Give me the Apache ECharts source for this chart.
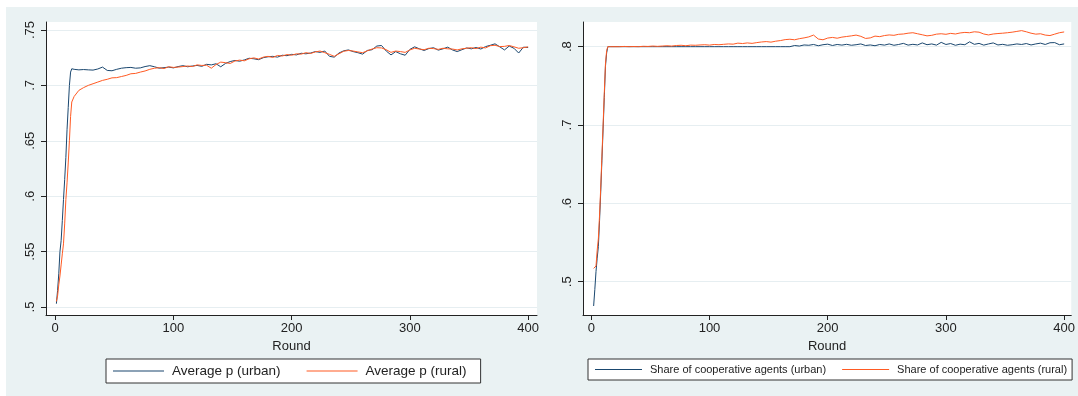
<!DOCTYPE html>
<html>
<head>
<meta charset="utf-8">
<script src="https://cdn.jsdelivr.net/npm/echarts@6/dist/echarts.min.js"></script>
<style>
html,body{margin:0;padding:0;background:#fff;}
#chart{width:1078px;height:396px;}
</style>
</head>
<body>
<div id="chart"></div>
<script>
// ---- data ----
const rounds = [1,2,3,4,5,6,7,8,9,10,11,12,13,14,
16,20,24,28,32,36,40,44,48,52,56,60,64,68,72,76,80,
84,88,92,96,100,104,108,112,116,120,124,128,132,136,140,144,148,152,156,160,
164,168,172,176,180,184,188,192,196,200,
204,208,212,216,220,224,228,232,236,240,244,248,252,256,260,264,268,272,276,280,
284,288,292,296,300,304,308,312,316,320,324,328,332,336,340,344,348,352,356,360,
364,368,372,376,380,384,388,392,396,400];

const avgPUrban = [.503,.515,.53,.55,.56,.578,.597,.615,.635,.66,.68,.70,.712,.715,
.7145,.714,.7143,.714,.7138,.7148,.7165,.7135,.7132,.7145,.7155,.716,.7162,.7155,.7158,.717,.7178,
.7168,.7155,.716,.7165,.7158,.717,.7178,.7168,.7175,.718,.7172,.719,.7185,.7195,.7168,.7198,.7215,.7225,.7218,.723,
.7245,.724,.7232,.725,.7258,.7262,.7255,.7272,.7268,.728,
.7275,.729,.7285,.7292,.7305,.7298,.731,.7262,.7255,.7292,.7312,.732,.7305,.7295,.7282,.7315,.7322,.7355,.736,.731,
.7275,.7305,.7285,.7272,.7325,.7348,.733,.7315,.7332,.734,.7318,.733,.7345,.732,.7305,.7322,.7338,.733,.7342,.7328,
.735,.7362,.7375,.7348,.732,.7355,.7335,.7292,.7345,.7342];

const avgPRural = [.505,.51,.52,.528,.538,.548,.557,.575,.597,.612,.63,.65,.672,.685,
.69,.6955,.698,.70,.7015,.703,.7045,.7055,.7068,.707,.708,.709,.7105,.7108,.712,.713,.7145,
.7155,.716,.7152,.7168,.7162,.7165,.717,.7175,.717,.7185,.718,.7182,.7155,.7188,.721,.7205,.7198,.722,.7228,.7222,
.724,.7248,.7238,.7255,.7262,.7252,.727,.7265,.7278,.7272,
.7285,.7282,.7295,.7288,.7302,.731,.7295,.728,.7262,.7285,.7308,.7315,.731,.7302,.7295,.7312,.7328,.734,.7338,.7322,
.7298,.731,.7305,.7298,.732,.7335,.7328,.7322,.7335,.7332,.7325,.7335,.733,.7328,.732,.733,.7335,.734,.7332,.7345,
.7338,.7358,.7362,.735,.7352,.736,.7348,.7335,.734,.7348];

const shareUrban = [null,.469,.49,.513,.53,.545,.578,.615,.655,.695,.735,.775,.792,.80,
.80,.80,.80,.80,.80,.80,.80,.80,.80,.80,.80,.80,.80,.80,.80,.80,.80,
.80,.80,.80,.80,.80,.80,.80,.80,.80,.80,.80,.80,.80,.80,.80,.80,.80,.80,.80,.80,
.80,
.80,.8015,.8008,.8022,.8018,.8028,.8012,.8025,.8032,.8015,
.8028,.802,.803,.8018,.8025,.8035,.8015,.8022,.8012,.8028,
.802,.8035,.8018,.8028,.8042,.802,.803,.8022,.8048,.8025,
.8035,.802,.8055,.8028,.804,.8018,.8032,.8025,.8062,.803,
.8042,.802,.8035,.8048,.8022,.803,.8018,.8025,.8035,.8028,
.804,.8022,.8035,.8045,.8028,.805,.8052,.8025,.8035];

const shareRural = [null,.517,.517,.52,.54,.555,.585,.62,.66,.70,.74,.778,.795,.80,
.80,.80,.80,.8003,.80,.8002,.80,.8005,.8003,.8008,
.8004,.8008,.8012,.8008,.8015,.8018,.8012,.802,.8018,.8022,
.8025,.802,.8028,.8025,.803,.8035,.8032,.8045,.804,.8048,
.8042,.8052,.806,.8065,.8058,.807,.8078,.809,.8095,.8088,
.8102,.8112,.8125,.8148,.8098,.8088,.811,.8118,.8108,.8122,
.813,.8138,.8148,.8132,.8105,.8112,.8135,.8128,.8142,.815,
.8145,.8158,.8162,.8172,.8178,.8165,.8152,.8138,.8145,.816,
.8165,.8158,.817,.8162,.8175,.8182,.8178,.819,.8185,.8162,
.815,.8162,.8168,.8172,.8178,.8185,.8195,.8205,.819,.8172,
.816,.8165,.8148,.8142,.816,.8178,.8188];

const xTicks = [0,100,200,300,400];
const yTicksLeft = [.5,.55,.6,.65,.7,.75];
const yTicksRight = [.5,.6,.7,.8];
const names = ['Average p (urban)','Average p (rural)','Share of cooperative agents (urban)','Share of cooperative agents (rural)'];

// ---- chart ----
const NAVY = '#1a476f', ORANGE = '#ff5a23';
const FONT = 'Liberation Sans, Arial, sans-serif';
const pair = arr => rounds.map((r,i)=>[r, arr[i]]);
const fmtY = v => v.toFixed(2).replace(/^0/,'').replace(/0$/,'');

function xAxis(gi, min, max){
  return {
    type:'value', gridIndex:gi, min:min, max:max,
    name:'Round', nameLocation:'middle', nameGap:20,
    nameTextStyle:{color:'#222', fontSize:13, fontFamily:FONT},
    axisLine:{show:true, onZero:false, lineStyle:{color:'#222', width:1}},
    axisTick:{show:true, length:5, customValues:xTicks, lineStyle:{color:'#222'}},
    axisLabel:{customValues:xTicks, color:'#222', fontSize:13, fontFamily:FONT, margin:7},
    splitLine:{show:false}
  };
}
function yAxis(gi, min, max, ticks){
  return {
    type:'value', gridIndex:gi, min:min, max:max,
    axisLine:{show:true, onZero:false, lineStyle:{color:'#222', width:1}},
    axisTick:{show:true, length:5, customValues:ticks, lineStyle:{color:'#222'}},
    axisLabel:{customValues:ticks, formatter:fmtY, rotate:90, color:'#222', fontSize:13, fontFamily:FONT, margin:9},
    splitLine:{show:true, lineStyle:{color:'#e6eef1', width:1}}
  };
}
function line(name, xi, arr, color){
  return {
    name:name, type:'line', xAxisIndex:xi, yAxisIndex:xi, data:pair(arr),
    showSymbol:false, symbol:'none', lineStyle:{color:color, width:1}, itemStyle:{color:color},
    emphasis:{disabled:true}, connectNulls:false
  };
}
function legend(names2, left, fontSize, itemWidth, gap, padR){
  return {
    data:names2, left:left, top:359, orient:'horizontal',
    backgroundColor:'#fff', borderColor:'#333', borderWidth:1, borderRadius:0,
    padding:[5,padR,5,7], itemGap:gap, itemWidth:itemWidth, itemHeight:1,
    icon:'rect',
    textStyle:{color:'#222', fontSize:fontSize, fontFamily:FONT, padding:[0,0,0,3]}
  };
}

const chart = echarts.init(document.getElementById('chart'), null, {renderer:'canvas'});
chart.setOption({
  animation:false,
  backgroundColor:'#eaf2f3',
  graphic:[
    {type:'rect', shape:{x:0,y:0,width:1078,height:7}, style:{fill:'#fff'}, silent:true},
    {type:'rect', shape:{x:0,y:0,width:6,height:396}, style:{fill:'#fff'}, silent:true}
  ],
  grid:[
    {left:46, right:541, top:22, bottom:81, show:true, backgroundColor:'#fff', borderWidth:0},
    {left:583, right:4, top:22, bottom:81, show:true, backgroundColor:'#fff', borderWidth:0}
  ],
  xAxis:[xAxis(0,-7.8,407.5), xAxis(1,-7,406)],
  yAxis:[yAxis(0,0.4928,0.7572,yTicksLeft), yAxis(1,0.4575,0.8315,yTicksRight)],
  legend:[
    legend([names[0],names[1]], 106, 13.5, 51, 26, 14),
    legend([names[2],names[3]], 588, 11, 47, 16, 5)
  ],
  series:[
    line(names[0],0,avgPUrban,NAVY),
    line(names[1],0,avgPRural,ORANGE),
    line(names[2],1,shareUrban,NAVY),
    line(names[3],1,shareRural,ORANGE)
  ]
});
</script>
</body>
</html>
